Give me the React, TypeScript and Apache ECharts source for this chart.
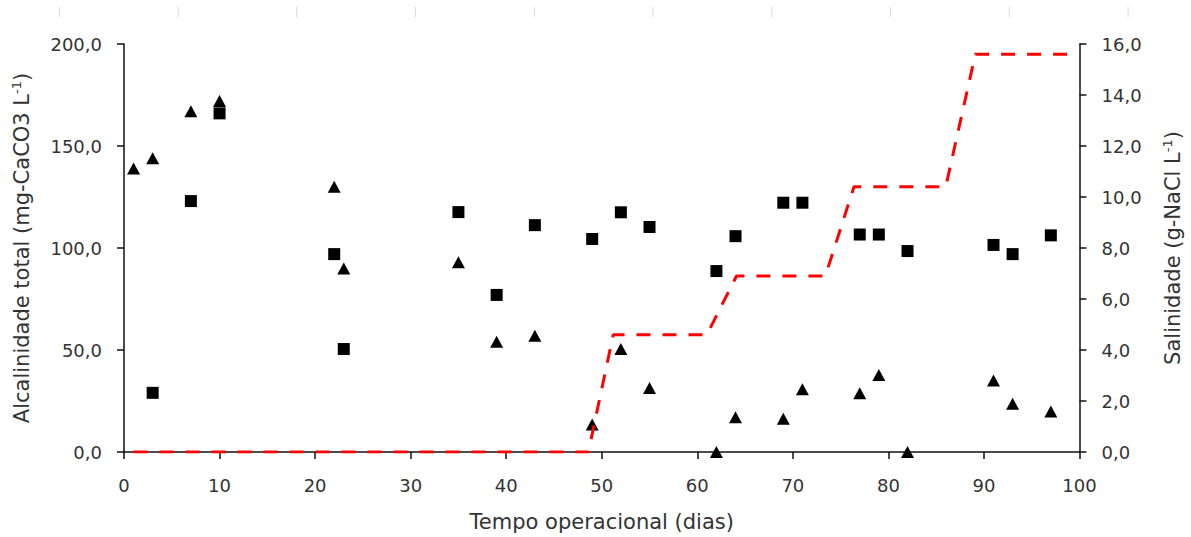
import React, { useEffect, useRef } from "react";
import * as echarts from "echarts";

// Days with measurements
const triDays = [1, 3, 7, 10, 22, 23, 35, 39, 43, 49, 52, 55, 62, 64, 69, 71, 77, 79, 82, 91, 93, 97];
const triValues = [139, 144, 167, 172, 130, 90, 93, 54, 57, 13.5, 50.5, 31.4, 0, 17, 16.3, 30.8, 28.8, 37.8, 0, 35, 23.6, 19.8];

const sqDays = [3, 7, 10, 22, 23, 35, 39, 43, 49, 52, 55, 62, 64, 69, 71, 77, 79, 82, 91, 93, 97];
const sqValues = [29, 123, 166, 97, 50.5, 117.6, 77, 111.2, 104.4, 117.5, 110.3, 88.7, 105.8, 122.2, 122.2, 106.6, 106.6, 98.5, 101.5, 97, 106.2];

// Salinity (g-NaCl/L) profile
const salDays = [1, 48.6, 51.2, 61, 64.1, 73.4, 76.4, 86, 89.1, 98.7];
const salValues = [0, 0, 4.6, 4.6, 6.9, 6.9, 10.4, 10.4, 15.6, 15.6];

const xTicks = { min: 0, max: 100, interval: 10 };
const yLeftTicks = { min: 0, max: 200, interval: 50 };
const yRightTicks = { min: 0, max: 16, interval: 2 };

const FONT = "DejaVu Sans";
const TEXT = "#333333";
const AXIS = "#111111";

const fmt = (v: number) => v.toFixed(1).replace(".", ",");

export default function App() {
  const ref = useRef<HTMLDivElement>(null);

  useEffect(() => {
    if (!ref.current) return;
    const chart = echarts.init(ref.current, null, { renderer: "svg" });

    const pair = (xs: number[], ys: number[]) => xs.map((x, i) => [x, ys[i]]);

    const topTicks = Array.from({ length: 10 }, (_, k) => ({
      type: "line",
      shape: { x1: 59.3 + 118.75 * k, y1: 7, x2: 59.3 + 118.75 * k, y2: 17 },
      style: { stroke: "#d9d9d9", lineWidth: 1 },
      silent: true,
    }));

    const nameRich = (size: number) => ({
      n: { fontFamily: FONT, fontSize: size, color: TEXT, lineHeight: 24 },
      s: { fontFamily: FONT, fontSize: 13, color: TEXT, lineHeight: 24, verticalAlign: "top" },
    });

    const axisCommon = {
      axisLine: { show: true, lineStyle: { color: AXIS, width: 1.5 } },
      axisTick: { show: true, inside: false, length: 7, lineStyle: { color: AXIS, width: 1.5 } },
      splitLine: { show: false },
    };

    chart.setOption({
      animation: false,
      backgroundColor: "#ffffff",
      graphic: topTicks,
      grid: { left: 124, right: 109, top: 44, bottom: 84, containLabel: false },
      xAxis: {
        type: "value",
        ...xTicks,
        ...axisCommon,
        axisLabel: { fontFamily: FONT, fontSize: 18, color: TEXT, margin: 24 },
        name: "Tempo operacional (dias)",
        nameLocation: "middle",
        nameGap: 59,
        nameTextStyle: { fontFamily: FONT, fontSize: 21, color: TEXT },
      },
      yAxis: [
        {
          type: "value",
          position: "left",
          ...yLeftTicks,
          ...axisCommon,
          axisLabel: { fontFamily: FONT, fontSize: 18, color: TEXT, margin: 22, formatter: fmt },
          name: "{n|Alcalinidade total (mg-CaCO3 L}{s|-1}{n|)}",
          nameLocation: "middle",
          nameGap: 90,
          nameTextStyle: { rich: nameRich(21) },
        },
        {
          type: "value",
          position: "right",
          ...yRightTicks,
          ...axisCommon,
          axisLabel: { fontFamily: FONT, fontSize: 18, color: TEXT, margin: 22, formatter: fmt },
          name: "{n|Salinidade (g-NaCl L}{s|-1}{n|)}",
          nameLocation: "middle",
          nameGap: 81,
          nameTextStyle: { rich: nameRich(21) },
        },
      ],
      series: [
        {
          name: "Alcalinidade (quadrados)",
          type: "scatter",
          yAxisIndex: 0,
          symbol: "rect",
          symbolSize: 12,
          itemStyle: { color: "#000000", opacity: 1 },
          data: pair(sqDays, sqValues),
        },
        {
          name: "Alcalinidade (triângulos)",
          type: "scatter",
          yAxisIndex: 0,
          symbol: "triangle",
          symbolSize: [13, 12],
          itemStyle: { color: "#000000", opacity: 1 },
          data: pair(triDays, triValues),
        },
        {
          name: "Salinidade",
          type: "line",
          yAxisIndex: 1,
          showSymbol: false,
          symbol: "none",
          lineStyle: { color: "#ff0000", width: 3, type: [14, 12] },
          data: pair(salDays, salValues),
          z: 3,
        },
      ],
    });

    return () => chart.dispose();
  }, []);

  return (
    <div
      ref={ref}
      style={{ position: "absolute", left: 0, top: 0, width: 1191, height: 537, background: "#fff" }}
    />
  );
}
